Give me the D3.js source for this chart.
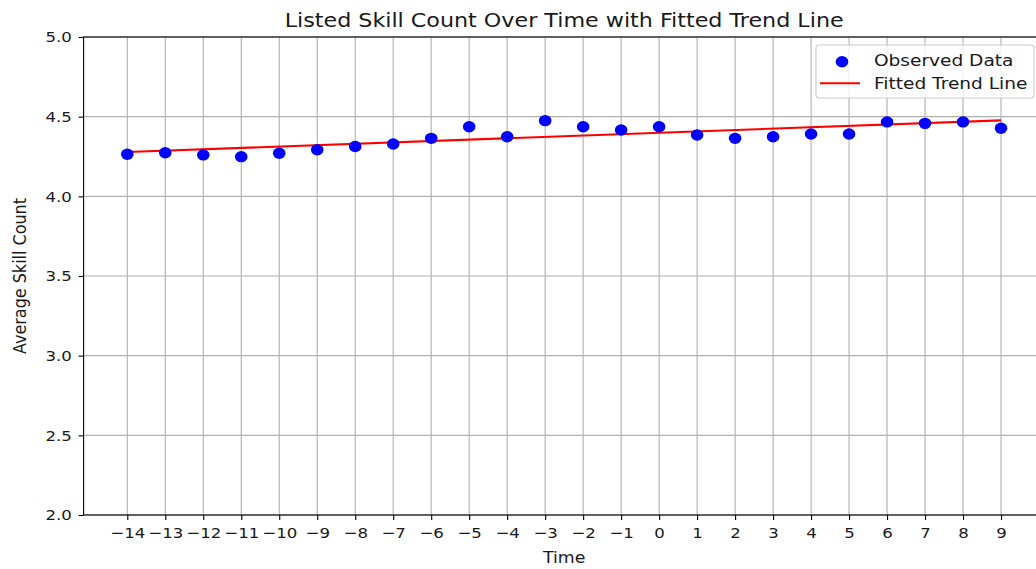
<!DOCTYPE html>
<html>
<head>
<meta charset="utf-8">
<script src="https://cdn.jsdelivr.net/npm/d3@7"></script>
<style>
  body { margin: 0; background: #fff; }
  svg { display: block; }
  text { font-family: "DejaVu Sans", sans-serif; fill: #1a1a1a; }
</style>
</head>
<body>
<svg id="chart" width="1036" height="569"></svg>
<script>
// ---- data ----
const times = [-14,-13,-12,-11,-10,-9,-8,-7,-6,-5,-4,-3,-2,-1,0,1,2,3,4,5,6,7,8,9];
const skillCounts = [4.264,4.274,4.26,4.249,4.27,4.292,4.313,4.328,4.364,4.437,4.374,4.475,4.437,4.416,4.437,4.385,4.364,4.374,4.391,4.391,4.467,4.458,4.467,4.427];
const trendTimes = [-14, 9];
const trendValues = [4.278, 4.477];
const xTickValues = d3.range(-14, 10);
const yTickValues = [2.0, 2.5, 3.0, 3.5, 4.0, 4.5, 5.0];
const titleText = "Listed Skill Count Over Time with Fitted Trend Line";
const xLabel = "Time";
const yLabel = "Average Skill Count";
const legendLabels = ["Observed Data", "Fitted Trend Line"];

// ---- layout ----
const svg = d3.select("#chart");
const pLeft = 83.6, pRight = 1044.7, pTop = 37, pBottom = 515;
const SX = 1.12; // horizontal text stretch seen in the reference
const x = d3.scaleLinear().domain([-15.15, 10.15]).range([pLeft, pRight]);
const y = d3.scaleLinear().domain([2, 5]).range([pBottom, pTop]);

// grid
const g = svg.append("g");
g.selectAll("line.vgrid").data(xTickValues).enter().append("line")
  .attr("x1", d => x(d)).attr("x2", d => x(d)).attr("y1", pTop).attr("y2", pBottom)
  .attr("stroke", "#b0b0b0").attr("stroke-width", 1.1);
g.selectAll("line.hgrid").data(yTickValues).enter().append("line")
  .attr("x1", pLeft).attr("x2", pRight).attr("y1", d => y(d)).attr("y2", d => y(d))
  .attr("stroke", "#b0b0b0").attr("stroke-width", 1.1);

// axes
const xAxis = d3.axisBottom(x).tickValues(xTickValues).tickSize(5).tickPadding(7)
  .tickFormat(d => d < 0 ? "\u2212" + Math.abs(d) : String(d));
const yAxis = d3.axisLeft(y).tickValues(yTickValues).tickSize(5).tickPadding(5.5)
  .tickFormat(d3.format(".1f"));
const gx = svg.append("g").attr("transform", `translate(0,${pBottom})`).call(xAxis);
const gy = svg.append("g").attr("transform", `translate(${pLeft},0)`).call(yAxis);
[gx, gy].forEach(a => {
  a.select(".domain").remove();
  a.selectAll(".tick line").attr("stroke", "#000").attr("stroke-width", 1.1);
  a.selectAll(".tick text").attr("font-size", 14.8).style("fill", "#1a1a1a")
    .attr("font-family", "DejaVu Sans").attr("transform", `scale(${SX},1)`);
});

// spines
svg.append("rect").attr("x", pLeft).attr("y", pTop).attr("width", pRight - pLeft).attr("height", pBottom - pTop)
  .attr("fill", "none").attr("stroke", "#000").attr("stroke-width", 1.1);

// trend line
svg.append("path")
  .datum(trendTimes.map((t, i) => [t, trendValues[i]]))
  .attr("d", d3.line().x(d => x(d[0])).y(d => y(d[1])))
  .attr("stroke", "#ff0000").attr("stroke-width", 2.1).attr("fill", "none");

// points
svg.selectAll("ellipse.pt").data(times.map((t, i) => [t, skillCounts[i]])).enter().append("ellipse")
  .attr("cx", d => x(d[0])).attr("cy", d => y(d[1])).attr("rx", 6.3).attr("ry", 5.7)
  .attr("fill", "#0000ff");

// title & labels
function stretchedText(px, py, size, sx, txt) {
  return svg.append("text").attr("transform", `translate(${px},${py}) scale(${sx},1)`)
    .attr("text-anchor", "middle").attr("font-size", size).text(txt);
}
stretchedText((pLeft + pRight) / 2, 27, 19.5, 1.14, titleText);
stretchedText((pLeft + pRight) / 2, 563, 15.5, SX, xLabel);
svg.append("text").attr("transform", `translate(26,${(pTop + pBottom) / 2}) scale(${SX},1) rotate(-90)`)
  .attr("text-anchor", "middle").attr("font-size", 16).text(yLabel);

// legend
const lg = svg.append("g");
lg.append("rect").attr("x", 816).attr("y", 45).attr("width", 218).attr("height", 53).attr("rx", 3)
  .attr("fill", "#fff").attr("fill-opacity", 0.8).attr("stroke", "#cccccc").attr("stroke-width", 1.1);
lg.append("ellipse").attr("cx", 842).attr("cy", 61.7).attr("rx", 6.3).attr("ry", 5.7).attr("fill", "#0000ff");
lg.append("line").attr("x1", 820).attr("x2", 860).attr("y1", 83.3).attr("y2", 83.3)
  .attr("stroke", "#ff0000").attr("stroke-width", 2.1);
lg.selectAll("text.lbl").data(legendLabels).enter().append("text")
  .attr("transform", (d, i) => `translate(874,${i === 0 ? 66 : 88.5}) scale(1.16,1)`)
  .attr("font-size", 16).text(d => d);
</script>
</body>
</html>
